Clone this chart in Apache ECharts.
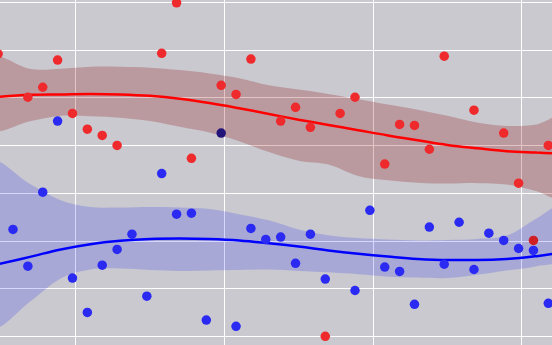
<!DOCTYPE html>
<html><head><meta charset="utf-8">
<script src="https://cdn.jsdelivr.net/npm/echarts@6/dist/echarts.min.js"></script>
<style>html,body{margin:0;padding:0;background:#c9c9cf;overflow:hidden}#c{width:552px;height:345px}</style>
</head><body><div id="c"></div><script>
// x position of day 0
const dayOffset = 4.79;

const redDays   = [0,2,3,4,5,6,7,8,11,12,13,15,16,17,19,20,21,22,23,24,26,27,28,29,30,32,34,35,37];
const redValues = [59.2,50.1,52.2,57.9,46.7,43.4,42.1,40.0,59.3,69.9,37.3,52.6,50.7,58.1,45.1,48.0,43.8,0.0,46.7,50.1,36.1,44.4,44.2,39.2,58.7,47.4,42.6,32.1,40.0];
const redDarkDays = [36];
const redDarkValues = [20.1];

const blueDays   = [1,2,3,4,5,6,7,8,9,10,11,12,13,14,16,17,18,19,20,21,22,24,25,26,27,28,29,30,31,32,33,34,35,36,37];
const blueValues = [22.4,14.7,30.2,45.1,12.2,5.0,14.9,18.2,21.4,8.4,34.1,25.6,25.8,3.4,2.1,22.6,20.3,20.8,15.3,21.4,12.0,9.6,26.4,14.5,13.6,6.7,22.9,15.1,23.9,14.0,21.6,20.1,18.4,18.0,6.9];
const blueDarkDays = [15];
const blueDarkValues = [42.6];

// smoothed fits and confidence bands
const curveX  = [4.5,7,9,11,13,15,17,19,21,23,25,27,29,31,33,35,37,39,41,42.6];
const redFit  = [50.1,50.6,50.7,50.8,50.7,50.4,49.8,48.9,47.8,46.6,45.4,44.3,43.2,42.1,41.1,40.1,39.4,38.8,38.5,38.3];
const redHi   = [58.3,56.0,56.1,56.5,56.5,56.3,55.8,55.1,54.1,52.6,51.7,50.8,49.7,48.6,47.5,46.2,44.8,44.1,44.4,45.8];
const redLo   = [43.5,45.1,46.2,46.1,45.8,45.1,43.9,42.7,40.9,38.6,36.8,36.0,33.6,32.7,32.2,32.0,32.1,31.8,30.4,29.1];
const blueFit = [14.9,16.7,18.2,19.3,20.0,20.4,20.5,20.4,20.1,19.5,18.8,18.0,17.3,16.7,16.2,16.0,16.0,16.2,16.8,17.5];
const blueHi  = [36.2,31.8,28.5,27.1,27.0,27.1,27.0,26.7,25.6,24.3,22.4,21.2,20.6,20.3,20.1,20.2,20.4,21.1,24.7,27.1];
const blueLo  = [2.2,7.4,12.1,14.0,14.2,13.9,13.7,13.8,13.9,14.0,13.7,13.4,13.0,12.5,12.3,12.2,12.9,13.8,14.7,16.3];

const pts = (days, vals) => days.map((d, i) => [dayOffset + d, vals[i]]);
const curve = vals => curveX.map((x, i) => [x, vals[i]]);

function band(lo, hi, color) {
  return {
    type:'custom', silent:true, z:1, clip:false,
    data:[0],
    renderItem:function(params, api) {
      const upper = curveX.map((x, i) => api.coord([x, hi[i]]));
      const lower = curveX.map((x, i) => api.coord([x, lo[i]])).reverse();
      return {type:'polygon', shape:{points:upper.concat(lower), smooth:0.35},
              style:{fill:color, stroke:null}};
    }
  };
}
function scatter(data, color) {
  return {type:'scatter', data:data, symbolSize:9.5, itemStyle:{color:color, opacity:1}, z:4, silent:true};
}
function fit(vals, color) {
  return {type:'line', data:curve(vals), smooth:0.4, showSymbol:false, silent:true,
          lineStyle:{color:color, width:2.5}, z:3};
}

const chart = echarts.init(document.getElementById('c'), null, {renderer:'canvas'});
chart.setOption({
  animation:false,
  backgroundColor:'#c9c9cf',
  grid:{left:-73.1, top:-45.4, width:743.5, height:429.4, containLabel:false, outerBoundsMode:'none'},
  xAxis:{type:'value', min:0, max:50, interval:10,
    axisLine:{show:false}, axisTick:{show:false}, axisLabel:{show:false},
    splitLine:{show:true, lineStyle:{color:'#ffffff', width:1}}},
  yAxis:{type:'value', min:-10, max:80, interval:10,
    axisLine:{show:false}, axisTick:{show:false}, axisLabel:{show:false},
    splitLine:{show:true, lineStyle:{color:'#ffffff', width:1}}},
  series:[
    band(redLo, redHi, 'rgba(139,0,0,0.23)'),
    band(blueLo, blueHi, 'rgba(0,0,255,0.16)'),
    fit(redFit, '#ff0000'),
    fit(blueFit, '#0000ff'),
    scatter(pts(redDays, redValues), '#ef2a2d'),
    scatter(pts(blueDays, blueValues), '#2a2af2'),
    scatter(pts(redDarkDays, redDarkValues), '#d02026'),
    scatter(pts(blueDarkDays, blueDarkValues), '#221478')
  ]
});
</script></body></html>
